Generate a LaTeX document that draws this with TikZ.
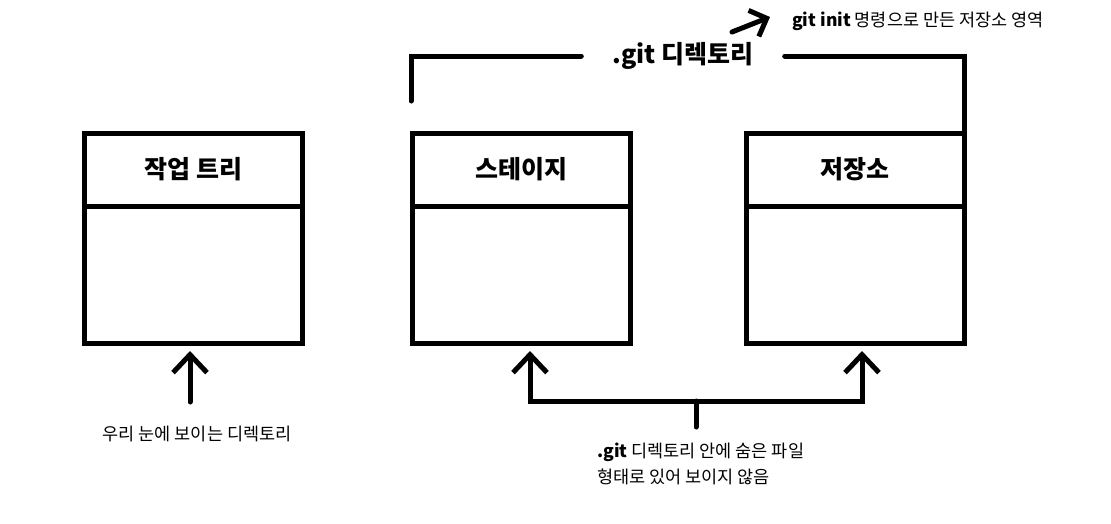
\documentclass[tikz,border=0pt]{standalone}
\usepackage{fontspec}
\setmainfont{Noto Sans CJK KR}
\usetikzlibrary{positioning,arrows.meta}

\tikzstyle{titlebox}=[draw, line width=5pt, outer sep=0pt, minimum width=218pt, minimum height=73pt, font=\fontsize{25}{29}\selectfont\bfseries]
\tikzstyle{bodybox}=[draw, line width=5pt, outer sep=0pt, minimum width=218pt, minimum height=137pt]
\tikzstyle{line}=[line width=5pt, line cap=round]
\tikzstyle{arrow}=[line width=5pt, line cap=round, -{Straight Barb[length=18pt,width=34pt]}]
\tikzstyle{note}=[font=\fontsize{17.5}{26}\selectfont, inner sep=0pt]

\begin{document}
\begin{tikzpicture}[x=1pt, y=-1pt]
          \useasboundingbox (0,0) rectangle (1111,523);
          \fill[white] (0,0) rectangle (1111,523);

          \node (work) [titlebox] at (193.5,169.5) {작업 트리};
          \node (stage) [titlebox, right=110pt of work] {스테이지};
          \node (repo) [titlebox, right=115.5pt of stage] {저장소};

          \node (workbody) [bodybox, below=0pt of work] {};
          \node (stagebody) [bodybox, below=0pt of stage] {};
          \node (repobody) [bodybox, below=0pt of repo] {};

          % .git bracket over stage and repo
          \node (gitdir) [font=\fontsize{25}{29}\selectfont\bfseries, inner xsep=31pt, inner ysep=0pt] at (683,56) {.git 디렉토리};
          \coordinate (gitfoot) at (411,101);
          \draw [line] (gitfoot) |- (gitdir.west);
          \draw [line] (gitdir.east) -| (repo.north east);

          \node (initnote) [note, anchor=west] at (792,21) {\textbf{git init} 명령으로 만든 저장소 영역};
          \coordinate (inittail) at (732,32);
          \coordinate (inittip) at (770,17);
          \draw [line, -{Straight Barb[length=14pt,width=28pt]}] (inittail) -- (inittip);

          % visible working tree
          \node (seen) [note] at (197,434) {우리 눈에 보이는 디렉토리};
          \coordinate (seentail) at (190,402);
          \draw [arrow, shorten >=8pt] (seentail) -- ([xshift=-3.5pt]workbody.south);

          % hidden stage and repo
          \node (hidden) [note, anchor=north west, align=left] at (597,443) {\textbf{.git} 디렉토리 안에 숨은 파일\\형태로 있어 보이지 않음};
          \coordinate (stem) at (696,427);
          \coordinate (fork) at (696,401);
          \draw [line] (stem) -- (fork);
          \draw [arrow, shorten >=8pt] (fork) -| ([xshift=8.5pt]stagebody.south);
          \draw [arrow, shorten >=8pt] (fork) -| ([xshift=7pt]repobody.south);
    \end{tikzpicture}
\end{document}
